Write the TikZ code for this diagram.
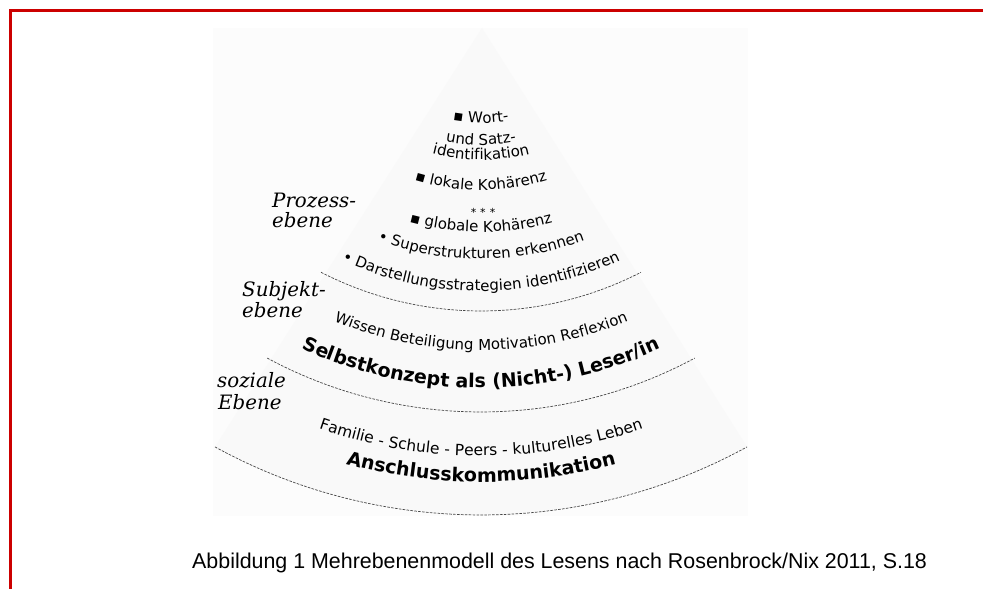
\documentclass[tikz,border=0pt]{standalone}
\usepackage{fontspec}
\setmainfont{DejaVu Sans}
\newfontfamily\fanfont{DejaVu Sans}
\newfontfamily\lblfont{DejaVu Serif}
\newfontfamily\capfont{Liberation Sans}
\usetikzlibrary{decorations.text}
\definecolor{framered}{RGB}{204,0,0}
\newcommand\fantext[4]{%
  \path[decorate,decoration={text along path,text align=center,text={|#3|#4}}]
    ([shift={(270-#2:#1)}]C) arc[start angle=270-#2,end angle=270+#2,radius=#1];}
\begin{document}
\begin{tikzpicture}[x=1pt,y=1pt,
  layerarc/.style={draw=black!72, line width=0.7pt, dash pattern=on 2.6pt off 1.3pt},
  lbl/.style={font=\lblfont\itshape\fontsize{19.8}{21}\selectfont, anchor=base west, inner sep=0pt},
  frameline/.style={draw=framered, line width=2.6pt},
  ]
\useasboundingbox (0,0) rectangle (983,589);
\fill[white] (0,0) rectangle (983,589);
% frame
\coordinate (F0) at (10.5,0);
\coordinate (F1) at (10.5,578.7);
\coordinate (F2) at (983,578.7);
\draw[frameline] (F0) -- (F1) -- (F2);
% scanned image area
\fill[black!1] (213,589-28) rectangle (748,589-516);
% fan
\coordinate (C) at (481,628);
\coordinate (A) at (482,561);
\fill[black!2.5] (A) -- ([shift={(241.3:554)}]C) arc[start angle=241.3,end angle=298.7,radius=554] -- cycle;
% layer boundaries
\draw[layerarc] ([shift={(270-27.2:350)}]C) arc[start angle=270-27.2,end angle=270+27.2,radius=350];
\draw[layerarc] ([shift={(270-28.3:451)}]C) arc[start angle=270-28.3,end angle=270+28.3,radius=451];
\draw[layerarc] ([shift={(270-28.7:554)}]C) arc[start angle=270-28.7,end angle=270+28.7,radius=554];
% process level texts
\fantext{162}{40}{\fanfont\fontsize{15}{18}\selectfont}{▪ Wort-}
\fantext{184}{40}{\fanfont\fontsize{15}{18}\selectfont}{und Satz-}
\fantext{199}{40}{\fanfont\fontsize{15}{18}\selectfont}{identifikation}
\fantext{229}{40}{\fanfont\fontsize{15}{18}\selectfont}{▪ lokale Kohärenz}
\node[font=\fanfont\fontsize{11}{11}\selectfont, anchor=base, inner sep=0pt] (stars) at (483,589-217) {*\hspace{4pt}*\hspace{4pt}*};
\fantext{271}{40}{\fanfont\fontsize{15}{18}\selectfont}{▪ globale Kohärenz}
\fantext{298}{40}{\fanfont\fontsize{15}{18}\selectfont}{• Superstrukturen erkennen}
\fantext{330}{40}{\fanfont\fontsize{15}{18}\selectfont}{• Darstellungsstrategien identifizieren}
% subject level texts
\fantext{389}{35}{\fanfont\fontsize{15}{18}\selectfont}{Wissen Beteiligung Motivation Reflexion}
\fantext{427}{35}{\fanfont\bfseries\fontsize{19}{22}\selectfont}{Selbstkonzept als (Nicht-) Leser/in}
% social level texts
\fantext{495}{30}{\fanfont\fontsize{15.5}{18}\selectfont}{Familie - Schule - Peers - kulturelles Leben}
\fantext{521}{30}{\fanfont\bfseries\fontsize{19}{22}\selectfont}{Anschlusskommunikation}
% level labels
\node[lbl] (p1) at (272,589-208) {Prozess-};
\node[lbl] (p2) at (272,589-228) {ebene};
\node[lbl] (s1) at (242,589-297) {Subjekt-};
\node[lbl] (s2) at (242,589-318) {ebene};
\node[lbl] (z1) at (217,589-388) {soziale};
\node[lbl] (z2) at (218,589-410) {Ebene};
% caption
\node[font=\capfont\fontsize{21.4}{24}\selectfont, anchor=base west, inner sep=0pt] (cap) at (192,589-569)
  {Abbildung 1 Mehrebenenmodell des Lesens nach Rosenbrock/Nix 2011, S.18};
\end{tikzpicture}
\end{document}
